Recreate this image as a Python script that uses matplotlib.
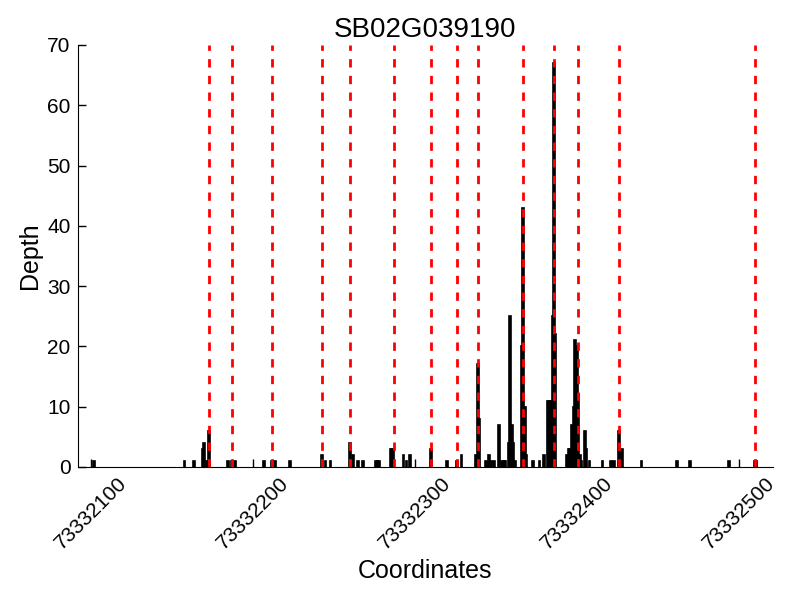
import matplotlib
matplotlib.use("Agg")
import matplotlib.pyplot as plt

plt.rcParams["font.family"] = ["Liberation Sans", "DejaVu Sans"]

gene = "SB02G039190"
base = 73332000

# read-depth bars: coordinate offsets (from base) and depth values
positions = [102, 158, 164, 169, 170, 172, 173, 185, 187, 189,
             207, 212, 214, 223, 243, 245, 248, 260, 262, 265,
             268, 276, 277, 278, 285, 286, 287, 293, 295, 297,
             310, 320, 326, 329, 338, 339, 340, 344, 346, 347,
             349, 352, 354, 355, 356, 358, 359, 360, 361, 362,
             366, 367, 368, 369, 373, 377, 380, 382, 383, 384,
             385, 386, 387, 394, 395, 396, 397, 398, 399, 400,
             401, 402, 403, 405, 406, 408, 416, 421, 423, 426,
             428, 440, 462, 470, 494, 510, 511]
depths = [1, 1, 1, 3, 4, 1, 6, 1, 1, 1,
          1, 1, 1, 1, 2, 1, 1, 4, 2, 1,
          1, 1, 1, 1, 3, 3, 3, 2, 1, 2,
          3, 1, 1, 2, 2, 17, 8, 1, 2, 1,
          1, 7, 1, 1, 1, 4, 25, 7, 4, 1,
          20, 43, 10, 2, 1, 1, 2, 11, 11, 11,
          25, 67, 22, 2, 3, 3, 7, 10, 21, 20,
          12, 2, 1, 6, 3, 1, 1, 1, 1, 6,
          3, 1, 1, 1, 1, 1, 1]

# exon boundaries (offsets from base)
boundaries = [173, 187, 212, 243, 260, 287, 310, 326, 339,
              367, 386, 401, 426, 510]

coords = [base + p for p in positions]

fig = plt.figure(figsize=(8, 6), dpi=100)
ax = fig.add_axes([0.097, 0.222, 0.869, 0.703])
ax.bar(coords, depths, width=1, color="black", edgecolor="black", linewidth=1.2)
for b in boundaries:
    ax.axvline(base + b, color="red", linestyle="--", linewidth=2, dashes=(3, 3))

ax.set_xlim(min(coords) - 10, max(coords) + 10)
ax.set_ylim(0, 70)
ax.set_xticks([base + 100, base + 200, base + 300, base + 400, base + 500])
ax.set_xticklabels([str(base + t) for t in (100, 200, 300, 400, 500)], rotation=45)
ax.set_yticks(range(0, 71, 10))
ax.tick_params(direction="in", length=5.5, width=1, labelsize=15, pad=5,
               top=False, right=False)
ax.spines["top"].set_visible(False)
ax.spines["right"].set_visible(False)
ax.set_xlabel("Coordinates", fontsize=18)
ax.set_ylabel("Depth", fontsize=18)
ax.set_title(gene, fontsize=20)

fig.savefig("out.png", dpi=100)
